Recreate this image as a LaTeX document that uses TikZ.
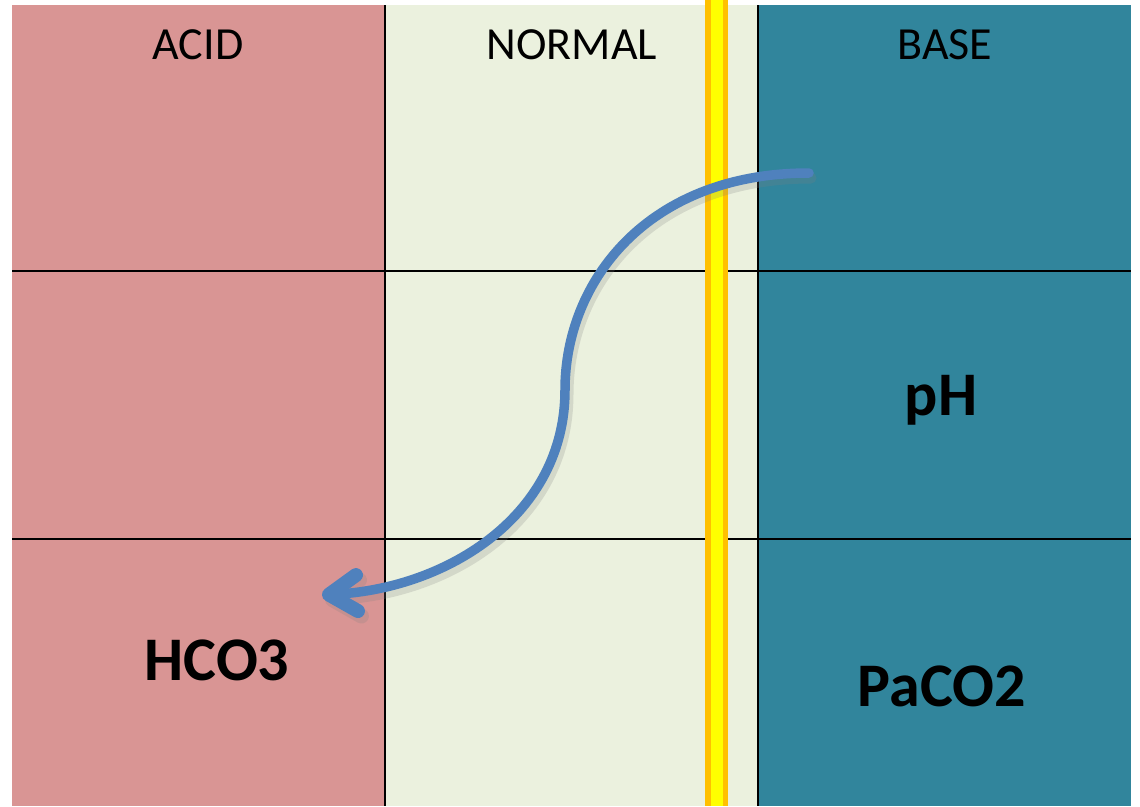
\documentclass[tikz,border=0pt]{standalone}
\usepackage{fontspec}
\setmainfont{Carlito}
\usetikzlibrary{arrows.meta}
\definecolor{acidc}{HTML}{D99594}
\definecolor{normc}{HTML}{EBF1DE}
\definecolor{basec}{HTML}{31859C}
\definecolor{arrc}{HTML}{4F81BD}
\definecolor{barorange}{HTML}{FFC000}
\definecolor{baryellow}{HTML}{FFFF00}
\tikzset{
  header/.style={font=\fontsize{46}{50}\selectfont, text=black},
  bigtext/.style={font=\fontsize{62}{66}\selectfont\bfseries, text=black},
  gridline/.style={black, line width=1.6pt},
  curvearrow/.style={arrc, line width=9.5pt, line cap=round, -{Straight Barb[length=28pt, width=36pt, round, line width=14pt]}},
  arrowshadow/.style={black!50, opacity=0.22, line width=11pt, line cap=round, -{Straight Barb[length=28pt, width=36pt, round, line width=15pt]}}
}
\begin{document}
\begin{tikzpicture}[x=1pt,y=-1pt]
\useasboundingbox (0,0) rectangle (1140,806);
\fill[white] (0,0) rectangle (1140,806);
% columns
\fill[acidc] (12,5) rectangle (385,806);
\fill[normc] (385,5) rectangle (758,806);
\fill[basec] (758,5) rectangle (1131,806);
% grid lines
\draw[gridline] (12,271) -- (1131,271);
\draw[gridline] (12,539) -- (1131,539);
\draw[gridline] (385,5) -- (385,806);
\draw[gridline] (758,5) -- (758,806);
% yellow bar
\fill[barorange] (705,0) rectangle (728,806);
\fill[baryellow] (711,0) rectangle (723,806);
% labels
\node[header] (acid) at (198,45) {ACID};
\node[header] (normal) at (572,45) {NORMAL};
\node[header] (base) at (945,45) {BASE};
\node[bigtext] (ph) at (941,400) {pH};
\node[bigtext] (hco) at (217,660) {HCO3};
\node[bigtext] (paco) at (942,686) {PaCO2};
% arrow
\coordinate (start) at (809,173);
\coordinate (mid) at (565,390);
\coordinate (tip) at (322,595);
\coordinate (starts) at (811,178);
\coordinate (mids) at (568,394);
\coordinate (tips) at (325,600);
\draw[arrowshadow] (starts) .. controls (650,178) and (568,286) .. (mids) .. controls (568,520) and (452,593) .. (tips);
\draw[curvearrow] (start) .. controls (648,173) and (565,281) .. (mid) .. controls (565,515) and (448,588) .. (tip);
\end{tikzpicture}
\end{document}
